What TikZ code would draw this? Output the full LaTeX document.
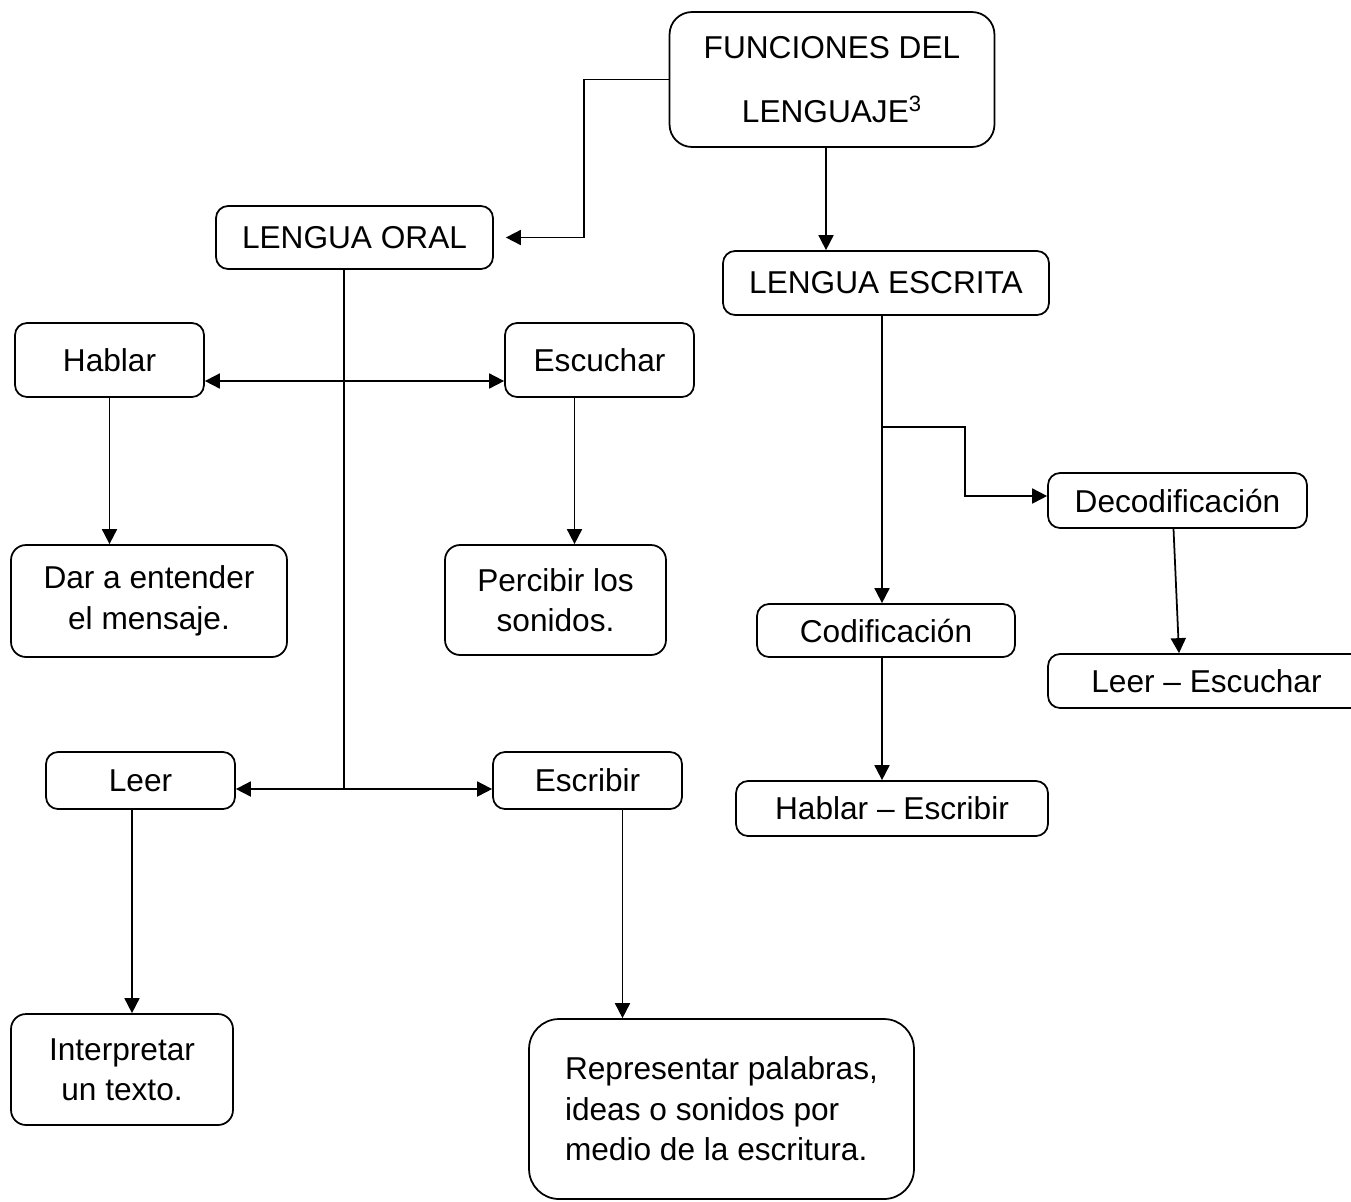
\documentclass[tikz,border=0pt]{standalone}
\usepackage{fontspec}
\setmainfont{Liberation Sans}
\usetikzlibrary{arrows.meta}

\begin{document}
\begin{tikzpicture}[x=0.02cm, y=-0.02cm, line width=1pt,
    box/.style={draw, rounded corners=0.24cm, inner sep=0pt, align=center, font=\fontsize{18}{23}\selectfont},
    arr/.style={-{Triangle[length=0.3cm,width=0.3cm]}},
    arrs/.style={{Triangle[length=0.3cm,width=0.3cm]}-{Triangle[length=0.3cm,width=0.3cm]}}]
    \useasboundingbox (0,0) rectangle (1351,1201);

    \node (fun) [box, minimum width=6.5cm, minimum height=2.7cm, rounded corners=0.45cm, font=\fontsize{18}{36}\selectfont] at (832,79.5) {FUNCIONES DEL\\LENGUAJE\textsuperscript{3}};
    \node (oral) [box, minimum width=5.54cm, minimum height=1.26cm] at (354.5,237.5) {LENGUA ORAL};
    \node (escrita) [box, minimum width=6.52cm, minimum height=1.28cm] at (886,283) {LENGUA ESCRITA};

    \node (hablar) [box, minimum width=3.78cm, minimum height=1.48cm] at (109.5,360) {Hablar};
    \node (escuchar) [box, minimum width=3.78cm, minimum height=1.48cm] at (599.5,360) {Escuchar};
    \node (dar) [box, minimum width=5.52cm, minimum height=2.24cm, rounded corners=0.3cm] at (149,601) {Dar a entender\\el mensaje.};
    \node (percibir) [box, minimum width=4.42cm, minimum height=2.2cm, rounded corners=0.3cm] at (555.5,600) {Percibir los\\sonidos.};

    \node (leer) [box, minimum width=3.78cm, minimum height=1.14cm] at (140.5,780.5) {Leer};
    \node (escribir) [box, minimum width=3.78cm, minimum height=1.14cm] at (587.5,780.5) {Escribir};
    \node (interp) [box, minimum width=4.44cm, minimum height=2.22cm, rounded corners=0.3cm] at (122,1069.5) {Interpretar\\un texto.};
    \node (repr) [box, minimum width=7.7cm, minimum height=3.6cm, rounded corners=0.6cm, align=left] at (721.5,1109) {Representar palabras,\\ideas o sonidos por\\medio de la escritura.};

    \node (decod) [box, minimum width=5.18cm, minimum height=1.1cm] at (1177.5,500.5) {Decodificación};
    \node (codif) [box, minimum width=5.16cm, minimum height=1.06cm] at (886,630.5) {Codificación};
    \node (leeresc) [box, minimum width=6.34cm, minimum height=1.08cm] at (1206.5,681) {Leer – Escuchar};
    \node (hablaresc) [box, minimum width=6.24cm, minimum height=1.1cm] at (892,808.5) {Hablar – Escribir};

    \coordinate (j1) at (344,381);
    \coordinate (j2) at (344,789);
    \coordinate (br) at (882,427);

    % funciones
    \draw [arr] (fun.west) -- ++(-85,0) |- ([xshift=0.24cm]oral.east);
    \draw [arr] ([xshift=-0.12cm]fun.south) -- ([xshift=-0.12cm]fun.south |- escrita.north);

    % lengua oral
    \draw (oral.south -| j1) -- (j2);
    \draw [arrs] (j1 -| hablar.east) -- (j1 -| escuchar.west);
    \draw [arrs] (j2 -| leer.east) -- (j2 -| escribir.west);
    \draw [arr] (hablar.south) -- (hablar.south |- dar.north);
    \draw [arr] ([xshift=-0.5cm]escuchar.south) -- ([xshift=-0.5cm]escuchar.south |- percibir.north);
    \draw [arr] ([xshift=-0.17cm]leer.south) -- ([xshift=-0.17cm]leer.south |- interp.north);
    \draw [arr] ([xshift=0.7cm]escribir.south) -- ([xshift=0.7cm]escribir.south |- repr.north);

    % lengua escrita
    \draw [arr] ([xshift=-0.08cm]escrita.south) -- ([xshift=-0.08cm]escrita.south |- codif.north);
    \draw [arr] (br) -- ++(83,0) |- ([yshift=0.09cm]decod.west);
    \draw [arr] ([xshift=-0.08cm]decod.south) -- ([xshift=-0.55cm]leeresc.north);
    \draw [arr] ([xshift=-0.08cm]codif.south) -- ([xshift=-0.08cm]codif.south |- hablaresc.north);
\end{tikzpicture}
\end{document}
